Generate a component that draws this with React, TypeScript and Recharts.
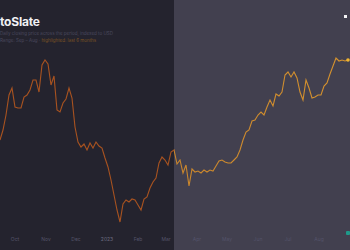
import { LineChart, Line, XAxis, YAxis, ReferenceDot } from "recharts";

// closing values, one every 3 days from the start date
const startDate = "2022-09-16";
const stepDays = 3;
const closes = [
  90, 100, 115, 135, 142, 123, 122, 122, 133, 135, 140, 150, 150, 138, 165, 170,
  166, 145, 154, 120, 118, 127, 131, 142, 132, 103, 88, 83, 86, 80, 87, 82,
  88, 84, 82, 72, 63, 50, 35, 20, 8, 26, 30, 28, 31, 30, 25, 20,
  31, 33, 42, 48, 52, 67, 73, 70, 65, 78, 80, 66, 70, 57, 65, 44,
  61, 58, 59, 57, 60, 58, 60, 59, 64, 69, 70, 68, 67, 67, 70, 73,
  80, 90, 98, 100, 109, 110, 115, 118, 115, 123, 130, 124, 136, 134, 138, 155,
  158, 153, 158, 152, 138, 130, 150, 142, 132, 133, 135, 135, 144, 147, 156, 164,
  172, 169, 170, 169, 170,
];
const monthLabels = ["Jan", "Feb", "Mar", "Apr", "May", "Jun", "Jul", "Aug", "Sep", "Oct", "Nov", "Dec"];
const spanDays = 350;

const DAY = 86400000;
const t0 = Date.parse(startDate + "T00:00:00Z");
const tEnd = t0 + spanDays * DAY;

const data = closes.map((v, i) => ({ t: t0 + i * stepDays * DAY, v }));
const last = data[data.length - 1];

// first day of each month inside the range
const monthTicks: number[] = [];
{
  const d = new Date(t0);
  let y = d.getUTCFullYear();
  let m = d.getUTCMonth() + 1;
  while (true) {
    if (m > 11) {
      m = 0;
      y++;
    }
    const t = Date.UTC(y, m, 1);
    if (t >= tEnd) break;
    monthTicks.push(t);
    m++;
  }
}

const fmtTick = (t: number) => {
  const d = new Date(t);
  return d.getUTCMonth() === 0 ? String(d.getUTCFullYear()) : monthLabels[d.getUTCMonth()];
};

function Tick(props: any) {
  const { x, y, payload } = props;
  const isYear = new Date(payload.value).getUTCMonth() === 0;
  return (
    <text
      x={x}
      y={y}
      dy={4}
      textAnchor="middle"
      fontSize={5}
      fontFamily="Inter, sans-serif"
      fill={isYear ? "#6c6b80" : "#54536a"}
    >
      {fmtTick(payload.value)}
    </text>
  );
}

export default function App() {
  return (
    <div
      style={{
        position: "fixed",
        left: 0,
        top: 0,
        width: 350,
        height: 250,
        overflow: "hidden",
        background: "#42404f",
        fontFamily: "Inter, sans-serif",
      }}
    >
      <div style={{ position: "absolute", left: 0, top: 0, width: 174, height: 250, background: "#24232e" }} />

      <LineChart
        width={350}
        height={250}
        data={data}
        margin={{ top: 0, right: 0, left: 0, bottom: 0 }}
        style={{ position: "absolute", left: 0, top: 0 }}
      >
        <defs>
          <linearGradient id="lineGrad" x1="0" y1="0" x2="1" y2="0">
            <stop offset="0%" stopColor="#a8521f" />
            <stop offset="50%" stopColor="#a8521f" />
            <stop offset="50%" stopColor="#c9852c" />
            <stop offset="100%" stopColor="#d4922e" />
          </linearGradient>
        </defs>
        <XAxis
          dataKey="t"
          type="number"
          domain={[t0, tEnd]}
          ticks={monthTicks}
          tick={<Tick />}
          axisLine={false}
          tickLine={false}
          tickMargin={1}
          height={20}
          interval={0}
        />
        <YAxis hide domain={[0, 230]} />
        <Line
          type="linear"
          dataKey="v"
          stroke="url(#lineGrad)"
          strokeWidth={1.1}
          dot={false}
          activeDot={false}
          isAnimationActive={false}
        />
        <ReferenceDot x={last.t} y={last.v} r={1.8} fill="#f2b630" stroke="none" />
      </LineChart>

      <div
        style={{
          position: "absolute",
          left: 0,
          top: 14,
          fontSize: 12,
          fontWeight: 700,
          color: "#f1f1f4",
          letterSpacing: -0.2,
        }}
      >
        toSlate
      </div>
      <div style={{ position: "absolute", left: 0, top: 31, fontSize: 4.5, color: "#4a495e", whiteSpace: "nowrap" }}>
        Daily closing price across the period, indexed to USD
      </div>
      <div style={{ position: "absolute", left: 0, top: 38, fontSize: 4.5, color: "#4a495e", whiteSpace: "nowrap" }}>
        Range: Sep – Aug ·{" "}
        <span style={{ color: "#7e5424" }}>highlighted: last 6 months</span>
      </div>
      <div style={{ position: "absolute", left: 344, top: 15, width: 3, height: 3, background: "#f4f4f6" }} />
      <div
        style={{
          position: "absolute",
          left: 346,
          top: 231,
          width: 4,
          height: 4,
          background: "#1f9a8a",
          borderRadius: 1,
        }}
      />
    </div>
  );
}
